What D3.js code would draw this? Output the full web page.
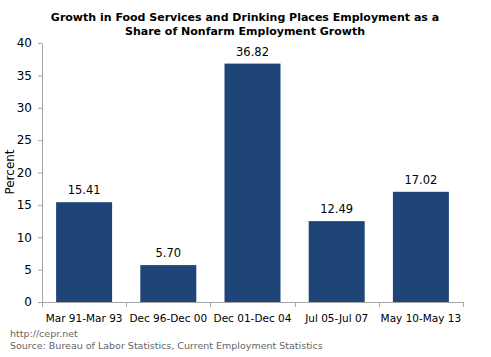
<!DOCTYPE html>
<html><head><meta charset="utf-8">
<script src="https://cdn.jsdelivr.net/npm/d3@7"></script>
<style>body{margin:0;background:#fff}text{font-family:"DejaVu Sans",Verdana,sans-serif}</style>
</head><body>
<svg id="c" width="491" height="357"></svg>
<script>
const categories = ["Mar 91-Mar 93","Dec 96-Dec 00","Dec 01-Dec 04","Jul 05-Jul 07","May 10-May 13"];
const values = [15.41, 5.70, 36.82, 12.49, 17.02];
const yTicks = [0,5,10,15,20,25,30,35,40];
const titleLines = ["Growth in Food Services and Drinking Places Employment as a","Share of Nonfarm Employment Growth"];
const sourceLines = ["http://cepr.net","Source: Bureau of Labor Statistics, Current Employment Statistics"];

const svg = d3.select("#c");
const L = 42, R = 463, T = 43, B = 302;
const x = d3.scaleBand().domain(categories).range([L, R]).padding(0);
const y = d3.scaleLinear().domain([0, 40]).range([B, T]);
const barFrac = 0.665;

svg.append("g").selectAll("text").data(titleLines).join("text")
  .attr("x", 245).attr("y", (d,i)=>21 + i*14).attr("text-anchor","middle")
  .attr("font-size", 11).attr("font-weight","bold").attr("fill","#000").text(d=>d);

// y axis
const ya = svg.append("g").attr("transform",`translate(${L},0)`)
  .call(d3.axisLeft(y).tickValues(yTicks).tickSize(4).tickPadding(6).tickSizeOuter(0));
ya.select(".domain").attr("stroke","#a6a6a6");
ya.selectAll(".tick line").attr("stroke","#a6a6a6");
ya.selectAll(".tick text").attr("font-size",12).attr("fill","#000").attr("font-family","DejaVu Sans");

// x axis baseline and boundary ticks
svg.append("line").attr("x1",L).attr("x2",R).attr("y1",B+0.5).attr("y2",B+0.5).attr("stroke","#a6a6a6");
const bounds = categories.map(c=>x(c)).concat([R]);
svg.append("g").selectAll("line").data(bounds).join("line")
  .attr("x1",d=>Math.round(d)+0.5).attr("x2",d=>Math.round(d)+0.5).attr("y1",B).attr("y2",B+5).attr("stroke","#a6a6a6");
svg.append("g").selectAll("text").data(categories).join("text")
  .attr("x",d=>x(d)+x.bandwidth()/2).attr("y",B+20).attr("text-anchor","middle")
  .attr("font-size",10.5).attr("fill","#000").text(d=>d);

// bars
const bw = x.bandwidth()*barFrac;
svg.append("g").selectAll("rect").data(values).join("rect")
  .attr("x",(d,i)=>x(categories[i])+(x.bandwidth()-bw)/2)
  .attr("y",d=>y(d)).attr("width",bw).attr("height",d=>B-y(d))
  .attr("fill","#1f4477");
svg.append("g").selectAll("text").data(values).join("text")
  .attr("x",(d,i)=>x(categories[i])+x.bandwidth()/2).attr("y",d=>y(d)-8)
  .attr("text-anchor","middle").attr("font-size",11.5).attr("fill","#000").text(d=>d.toFixed(2));

// y label
svg.append("text").attr("transform","translate(14,172) rotate(-90)").attr("text-anchor","middle")
  .attr("font-size",12).attr("fill","#000").text("Percent");

svg.append("g").selectAll("text").data(sourceLines).join("text")
  .attr("x",10).attr("y",(d,i)=>337 + i*12).attr("font-size",9.5).attr("fill","#666").text(d=>d);
</script>
</body></html>
